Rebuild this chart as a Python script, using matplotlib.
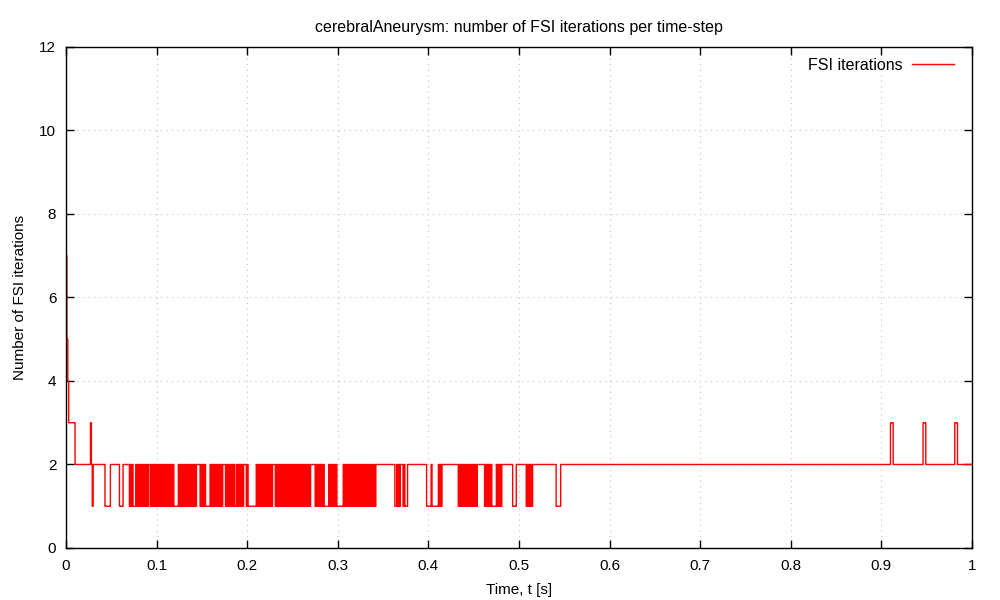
import numpy as np
import matplotlib.pyplot as plt

plt.rcParams['font.family'] = ['Liberation Sans', 'DejaVu Sans']
plt.rcParams['path.simplify'] = False

# time-step size of the run
dt = 0.001

# FSI iterations per time-step, run-length coded as (pattern, repeats)
# one digit per time-step
iter_runs = [
    ("7", 1), ("5", 1), ("4", 1), ("3", 7), ("2", 17), ("3", 1), ("2", 1), ("1", 1),
    ("2", 13), ("1", 6), ("2", 10), ("1", 4), ("2", 7), ("12", 2), ("1", 3),
    ("21", 7), ("2", 2), ("12", 13), ("1", 5), ("21", 10), ("2", 4), ("12", 3),
    ("1", 5), ("21", 7), ("2", 3), ("12", 5), ("1", 2), ("21", 4), ("2", 3),
    ("12", 1), ("1", 9), ("21", 9), ("2", 3), ("12", 20), ("2", 4), ("12", 5),
    ("1", 5), ("21", 4), ("2", 1), ("1", 7), ("21", 16), ("2", 1), ("12", 2),
    ("2", 20), ("1", 2), ("21", 2), ("2", 3), ("12", 1), ("1", 3), ("2", 21),
    ("1", 5), ("21", 1), ("1", 6), ("21", 2), ("2", 18), ("12", 11), ("2", 7),
    ("12", 4), ("1", 5), ("21", 3), ("2", 12), ("1", 4), ("2", 11), ("12", 4),
    ("2", 25), ("1", 5), ("2", 364), ("3", 3), ("2", 33), ("3", 3), ("2", 32),
    ("3", 3), ("2", 17),
]

x_ticks = [0, 0.1, 0.2, 0.3, 0.4, 0.5, 0.6, 0.7, 0.8, 0.9, 1]
x_tick_labels = ["0", "0.1", "0.2", "0.3", "0.4", "0.5", "0.6", "0.7", "0.8", "0.9", "1"]
y_ticks = [0, 2, 4, 6, 8, 10, 12]

# Decode the run-length list
iters = np.array([int(c) for pat, n in iter_runs for c in pat * n])
time = np.arange(len(iters)) * dt

fig = plt.figure(figsize=(10, 6), dpi=100)
ax = fig.add_axes([0.066, 0.0867, 0.906, 0.835])

ax.step(time, iters, where='post', color='#ff0000', linewidth=1.0, label='FSI iterations')

ax.set_xlim(0, 1)
ax.set_ylim(0, 12)
ax.set_xticks(x_ticks)
ax.set_xticklabels(x_tick_labels)
ax.set_yticks(y_ticks)
ax.tick_params(direction='in', top=True, right=True, length=6, width=1, labelsize=11)
ax.tick_params(axis='x', pad=8)
ax.tick_params(axis='y', pad=7)
ax.grid(True, linestyle=(0, (1, 4)), color='#c0c0c0', linewidth=0.8)
for s in ax.spines.values():
    s.set_linewidth(1)
    s.set_color('black')

ax.set_xlabel('Time, t [s]', fontsize=11, labelpad=7)
ax.set_ylabel('Number of FSI iterations', fontsize=11, labelpad=9)
ax.set_title('cerebralAneurysm: number of FSI iterations per time-step', fontsize=11.5, pad=11)

ax.legend(loc='upper right', bbox_to_anchor=(0.980, 0.979), frameon=False,
          markerfirst=False, fontsize=11.5, handlelength=2.6, handletextpad=0.6,
          borderpad=0, borderaxespad=0)

fig.savefig('out.png', dpi=100)
